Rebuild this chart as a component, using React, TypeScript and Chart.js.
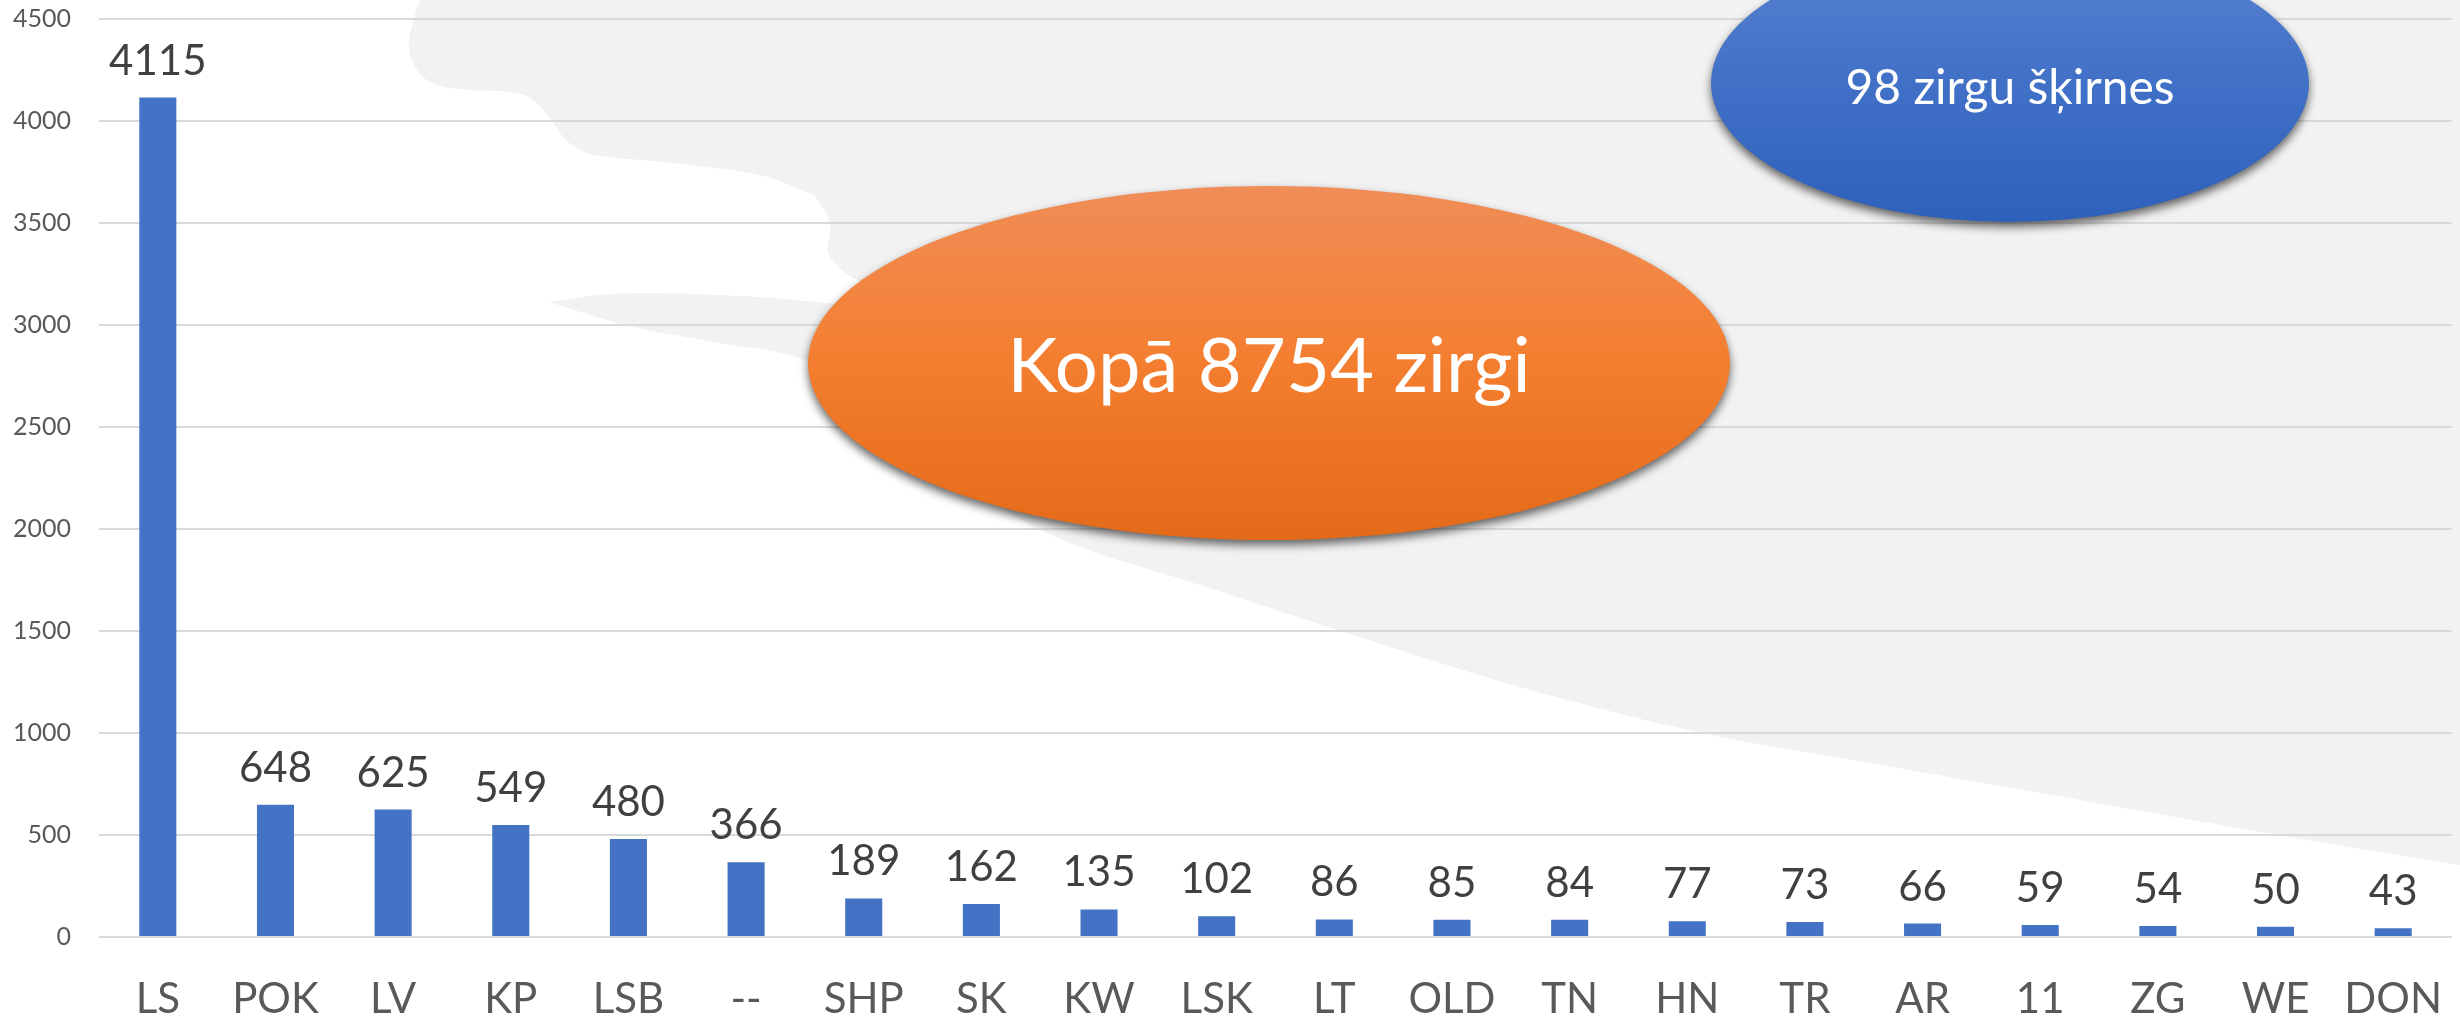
import React, { useEffect, useRef } from "react";
import { Chart, registerables } from "chart.js";

Chart.register(...registerables);

// ---- data ----
const categories = ["LS", "POK", "LV", "KP", "LSB", "--", "SHP", "SK", "KW", "LSK", "LT", "OLD", "TN", "HN", "TR", "AR", "11", "ZG", "WE", "DON"];
const horseCounts = [4115, 648, 625, 549, 480, 366, 189, 162, 135, 102, 86, 85, 84, 77, 73, 66, 59, 54, 50, 43];
const yAxisMin = 0;
const yAxisMax = 4500;
const yAxisStep = 500;
const totalText = "Kopā 8754 zirgi";
const breedText = "98 zirgu šķirnes";

// ---- decoration (reference pixel space 2460 x 1018) ----
const REF_W = 2460;
const REF_H = 1018;
const grayDiagonal: number[][] = [
  [2460, 865], [2307, 840], [2040, 793], [1853, 760], [1697, 732], [1520, 687], [1347, 633],
  [1200, 585], [1075, 545], [990, 500], [900, 425], [809, 362], [720, 343], [633, 327], [549, 302],
];
const grayLobe: number[][] = [
  [549, 302], [600, 295], [656, 293], [760, 297], [828, 303], [885, 303], [895, 292], [862, 282],
  [842, 270], [828, 252], [830, 225], [818, 200], [802, 190], [760, 175], [700, 166], [641, 160],
  [600, 156], [580, 150], [564, 138], [550, 118], [532, 99], [511, 92], [470, 90], [440, 86],
  [420, 74], [409, 50], [413, 22], [420, 0],
];
const orangeEllipse = { cx: 1269, cy: 363, rx: 461, ry: 177, baseline: 392, font: 76 };
const blueEllipse = { cx: 2010, cy: 83, rx: 299, ry: 139, baseline: 104, font: 48 };

function smoothThrough(ctx: CanvasRenderingContext2D, pts: number[][], sx: number, sy: number) {
  const n = pts.length;
  for (let i = 0; i < n - 1; i++) {
    const p0 = pts[Math.max(i - 1, 0)];
    const p1 = pts[i];
    const p2 = pts[i + 1];
    const p3 = pts[Math.min(i + 2, n - 1)];
    const c1x = p1[0] + (p2[0] - p0[0]) / 6;
    const c1y = p1[1] + (p2[1] - p0[1]) / 6;
    const c2x = p2[0] - (p3[0] - p1[0]) / 6;
    const c2y = p2[1] - (p3[1] - p1[1]) / 6;
    ctx.bezierCurveTo(c1x * sx, c1y * sy, c2x * sx, c2y * sy, p2[0] * sx, p2[1] * sy);
  }
}

const backgroundPlugin = {
  id: "bgShape",
  beforeDraw(chart: any) {
    const ctx: CanvasRenderingContext2D = chart.ctx;
    const sx = chart.width / REF_W;
    const sy = chart.height / REF_H;
    ctx.save();
    ctx.fillStyle = "#ffffff";
    ctx.fillRect(0, 0, chart.width, chart.height);
    ctx.fillStyle = "#f2f2f2";
    ctx.beginPath();
    ctx.moveTo(420 * sx, 0);
    ctx.lineTo(chart.width, 0);
    ctx.lineTo(grayDiagonal[0][0] * sx, grayDiagonal[0][1] * sy);
    smoothThrough(ctx, grayDiagonal, sx, sy);
    smoothThrough(ctx, grayLobe, sx, sy);
    ctx.closePath();
    ctx.fill();
    ctx.restore();
  },
};

const valueLabelPlugin = {
  id: "valueLabels",
  afterDatasetsDraw(chart: any) {
    const ctx: CanvasRenderingContext2D = chart.ctx;
    const meta = chart.getDatasetMeta(0);
    const data = chart.data.datasets[0].data;
    ctx.save();
    ctx.font = "42px Lato";
    ctx.fillStyle = "#404040";
    ctx.textAlign = "center";
    ctx.textBaseline = "alphabetic";
    meta.data.forEach((bar: any, i: number) => {
      ctx.fillText(String(data[i]), bar.x, bar.y - 23);
    });
    ctx.restore();
  },
};

function drawBubble(ctx: CanvasRenderingContext2D, e: any, stops: string[], text: string, sx: number, sy: number) {
  const cx = e.cx * sx, cy = e.cy * sy, rx = e.rx * sx, ry = e.ry * sy;
  ctx.save();
  ctx.shadowColor = "rgba(0,0,0,0.6)";
  ctx.shadowBlur = 10;
  ctx.shadowOffsetX = 0;
  ctx.shadowOffsetY = 5;
  const g = ctx.createLinearGradient(0, cy - ry, 0, cy + ry);
  g.addColorStop(0, stops[0]);
  g.addColorStop(0.5, stops[1]);
  g.addColorStop(1, stops[2]);
  ctx.fillStyle = g;
  ctx.beginPath();
  ctx.ellipse(cx, cy, rx, ry, 0, 0, Math.PI * 2);
  ctx.fill();
  ctx.restore();
  ctx.save();
  ctx.fillStyle = "#ffffff";
  ctx.font = `${e.font * sy}px Lato`;
  ctx.textAlign = "center";
  ctx.textBaseline = "alphabetic";
  ctx.fillText(text, cx, e.baseline * sy);
  ctx.restore();
}

const bubblePlugin = {
  id: "bubbles",
  afterDraw(chart: any) {
    const ctx: CanvasRenderingContext2D = chart.ctx;
    const sx = chart.width / REF_W;
    const sy = chart.height / REF_H;
    drawBubble(ctx, blueEllipse, ["#5a84d0", "#4170c7", "#2e61bb"], breedText, sx, sy);
    drawBubble(ctx, orangeEllipse, ["#f08d58", "#f47e2f", "#e36a18"], totalText, sx, sy);
  },
};

export default function App() {
  const canvasRef = useRef<HTMLCanvasElement | null>(null);

  useEffect(() => {
    let chart: Chart | null = null;
    let cancelled = false;
    const create = () => {
      if (cancelled || !canvasRef.current) return;
      chart = new Chart(canvasRef.current, {
        type: "bar",
        data: {
          labels: categories,
          datasets: [
            {
              data: horseCounts,
              backgroundColor: "#4472c4",
              borderWidth: 0,
              categoryPercentage: 1,
              barPercentage: 0.315,
            },
          ],
        },
        options: {
          animation: false,
          responsive: true,
          maintainAspectRatio: false,
          devicePixelRatio: 1,
          layout: { padding: { top: 19, right: 8, left: 0, bottom: 0 } },
          plugins: {
            legend: { display: false },
            tooltip: { enabled: false },
            title: { display: false },
          },
          scales: {
            x: {
              grid: { display: false, drawTicks: false },
              border: { display: false },
              ticks: {
                color: "#595959",
                font: { family: "Lato", size: 42 },
                padding: 37,
                maxRotation: 0,
                autoSkip: false,
              },
              afterFit(scale: any) {
                scale.height = 81;
                scale.paddingLeft = 0;
                scale.paddingRight = 0;
              },
            },
            y: {
              min: yAxisMin,
              max: yAxisMax,
              grid: { color: "#d9d9d9", lineWidth: 2, drawTicks: false },
              border: { display: false },
              ticks: {
                stepSize: yAxisStep,
                color: "#595959",
                font: { family: "Lato", size: 25 },
                padding: 28,
                callback: (v: any) => String(v),
              },
              afterFit(scale: any) {
                scale.width = 99;
                scale.paddingTop = 0;
                scale.paddingBottom = 0;
              },
            },
          },
        },
        plugins: [backgroundPlugin, valueLabelPlugin, bubblePlugin],
      });
    };
    const fontsReady = (document as any).fonts && (document as any).fonts.load
      ? Promise.all([
          (document as any).fonts.load("40px Lato"),
        ]).catch(() => null)
      : Promise.resolve(null);
    fontsReady.then(create);
    return () => {
      cancelled = true;
      if (chart) chart.destroy();
    };
  }, []);

  return (
    <div style={{ position: "absolute", left: 0, top: 0, width: REF_W + "px", height: REF_H + "px" }}>
      <canvas ref={canvasRef} />
    </div>
  );
}
